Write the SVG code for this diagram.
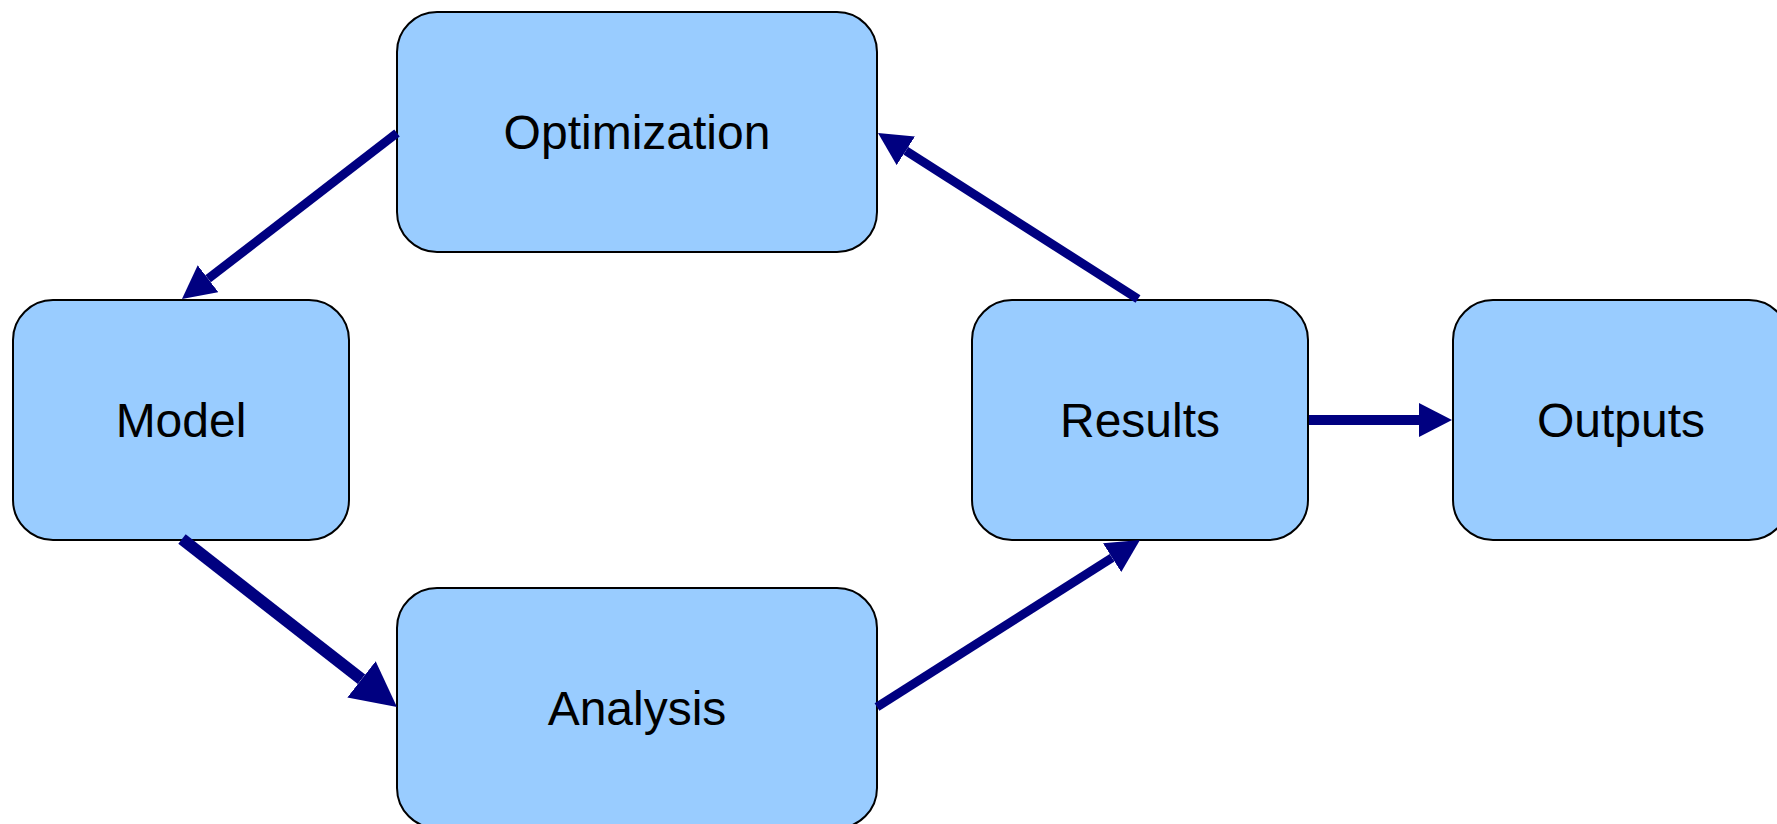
<svg xmlns="http://www.w3.org/2000/svg" width="1777" height="824" viewBox="0 0 1777 824">
  <style>
    .box { fill: #99CCFF; stroke: #000000; stroke-width: 2; }
    .label { font-family: "Liberation Sans", Arial, sans-serif; font-size: 48px; fill: #000000; text-anchor: middle; }
    .conn { stroke: #000080; fill: none; stroke-linecap: butt; }
  </style>
  <defs>
    <marker id="arrow" markerUnits="userSpaceOnUse" viewBox="0 0 33 34" refX="0" refY="17" markerWidth="33" markerHeight="34" orient="auto">
      <path d="M0,0 L33,17 L0,34 Z" fill="#000080"/>
    </marker>
    <marker id="arrowBig" markerUnits="userSpaceOnUse" viewBox="0 0 45 46" refX="0" refY="23" markerWidth="45" markerHeight="46" orient="auto">
      <path d="M0,0 L45,23 L0,46 Z" fill="#000080"/>
    </marker>
  </defs>
  <rect width="1777" height="824" fill="#FFFFFF"/>

  <g id="node-optimization">
    <rect class="box" x="397" y="12" width="480" height="240" rx="40" ry="40"/>
    <text class="label" x="637" y="149">Optimization</text>
  </g>
  <g id="node-model">
    <rect class="box" x="13" y="300" width="336" height="240" rx="40" ry="40"/>
    <text class="label" x="181" y="437">Model</text>
  </g>
  <g id="node-analysis">
    <rect class="box" x="397" y="588" width="480" height="240" rx="40" ry="40"/>
    <text class="label" x="637" y="725">Analysis</text>
  </g>
  <g id="node-results">
    <rect class="box" x="972" y="300" width="336" height="240" rx="40" ry="40"/>
    <text class="label" x="1140" y="437">Results</text>
  </g>
  <g id="node-outputs">
    <rect class="box" x="1453" y="300" width="336" height="240" rx="40" ry="40"/>
    <text class="label" x="1621" y="437">Outputs</text>
  </g>

  <g id="connectors">
    <line class="conn" x1="397" y1="133" x2="208.1" y2="278.8" stroke-width="9" marker-end="url(#arrow)"/>
    <line class="conn" x1="182" y1="539" x2="361.5" y2="679.3" stroke-width="12" marker-end="url(#arrowBig)"/>
    <line class="conn" x1="877" y1="707" x2="1112.1" y2="557.7" stroke-width="9" marker-end="url(#arrow)"/>
    <line class="conn" x1="1138" y1="299" x2="905.8" y2="150.8" stroke-width="9" marker-end="url(#arrow)"/>
    <line class="conn" x1="1309" y1="420" x2="1419" y2="420" stroke-width="10" marker-end="url(#arrow)"/>
  </g>
</svg>
